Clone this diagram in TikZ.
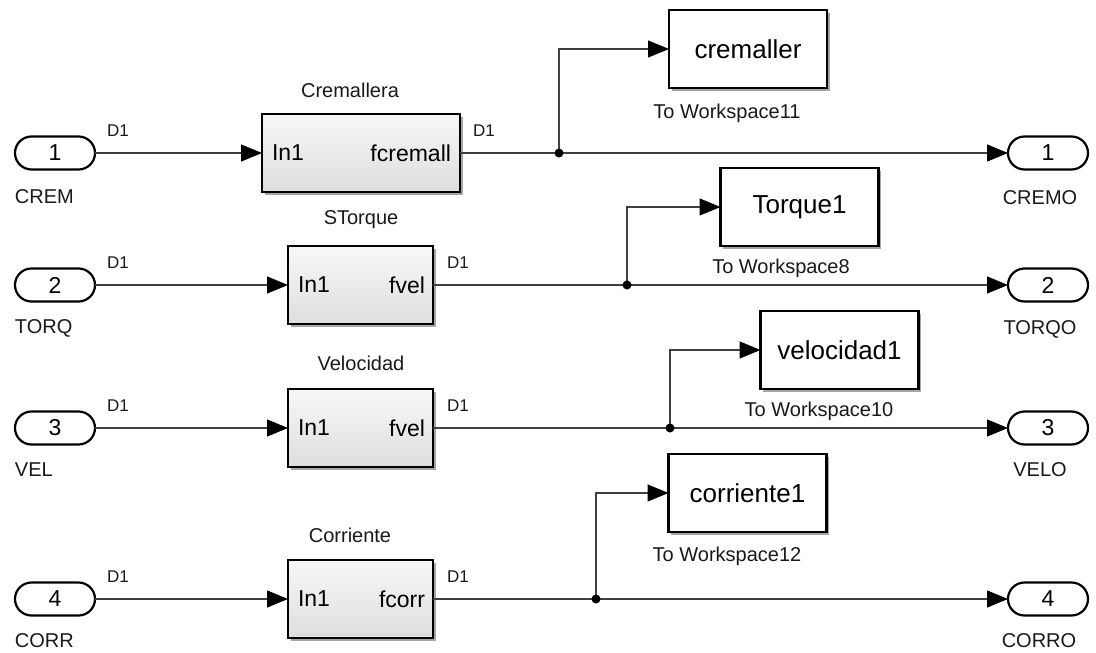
\documentclass[tikz,border=0pt]{standalone}
\usepackage{fontspec}
\setmainfont{Liberation Sans}
\usetikzlibrary{shapes.misc,arrows.meta,shadows}
\begin{document}
\begin{tikzpicture}[x=1pt,y=-1pt,
  every node/.style={inner sep=0pt, outer sep=0pt},
  lbl/.style={font=\fontsize{20}{24}\selectfont, text=black!90},
  dlbl/.style={font=\fontsize{17}{20}\selectfont, text=black!90, anchor=west},
  port/.style={draw, rounded rectangle, line width=2.2pt, minimum width=80pt, minimum height=33pt, font=\fontsize{23}{26}\selectfont, fill=white},
  subsys/.style={draw, line width=2.5pt, minimum height=78pt, top color=black!3, bottom color=black!13,
    drop shadow={shadow xshift=2.5pt, shadow yshift=-2.5pt, opacity=0.35, fill=black}},
  ws/.style={draw, line width=2.5pt, minimum width=158pt, minimum height=78pt, fill=white, font=\fontsize{26}{30}\selectfont,
    drop shadow={shadow xshift=2.5pt, shadow yshift=-2.5pt, opacity=0.35, fill=black}},
  plbl/.style={font=\fontsize{23}{26}\selectfont},
  sig/.style={draw=black!75, line width=1.3pt, -{Triangle[length=21pt,width=17pt,color=black]}},
  wire/.style={draw=black!75, line width=1.3pt},
  jdot/.style={circle, fill=black, minimum size=9pt}
]
\useasboundingbox (0,0) rectangle (1096,653);

% ---------- inports ----------
\node[port] (in1) at (55,153) {1};
\node[port] (in2) at (55,285) {2};
\node[port] (in3) at (55,428) {3};
\node[port] (in4) at (55,599) {4};
\node[lbl, anchor=west] (in1l) at (15,197) {CREM};
\node[lbl, anchor=west] (in2l) at (15,328) {TORQ};
\node[lbl, anchor=west] (in3l) at (15,470) {VEL};
\node[lbl, anchor=west] (in4l) at (15,641) {CORR};

% ---------- outports ----------
\node[port] (out1) at (1048,153) {1};
\node[port] (out2) at (1048,285) {2};
\node[port] (out3) at (1048,428) {3};
\node[port] (out4) at (1048,599) {4};
\node[lbl] (out1l) at (1040,198) {CREMO};
\node[lbl] (out2l) at (1040,329) {TORQO};
\node[lbl] (out3l) at (1040,470) {VELO};
\node[lbl] (out4l) at (1039,641) {CORRO};

% ---------- subsystems ----------
\node[subsys, minimum width=198pt] (b1) at (361,153) {};
\node[subsys, minimum width=145pt] (b2) at (360.5,285) {};
\node[subsys, minimum width=145pt] (b3) at (360.5,428) {};
\node[subsys, minimum width=145pt] (b4) at (360.5,599) {};
\node[plbl, anchor=west] (b1i) at ([xshift=10pt]b1.west) {In1};
\node[plbl, anchor=east] (b1o) at ([xshift=-9pt]b1.east) {fcremall};
\node[plbl, anchor=west] (b2i) at ([xshift=10pt]b2.west) {In1};
\node[plbl, anchor=east] (b2o) at ([xshift=-8pt]b2.east) {fvel};
\node[plbl, anchor=west] (b3i) at ([xshift=10pt]b3.west) {In1};
\node[plbl, anchor=east] (b3o) at ([xshift=-8pt]b3.east) {fvel};
\node[plbl, anchor=west] (b4i) at ([xshift=10pt]b4.west) {In1};
\node[plbl, anchor=east] (b4o) at ([xshift=-8pt]b4.east) {fcorr};
\node[lbl] (b1t) at (350,90) {Cremallera};
\node[lbl] (b2t) at (361,220) {STorque};
\node[lbl] (b3t) at (361,363) {Velocidad};
\node[lbl] (b4t) at (350,535) {Corriente};

% ---------- to workspace ----------
\node[ws] (ws1) at (748,49) {cremaller};
\node[ws] (ws2) at (799.5,207) {Torque1};
\node[ws] (ws3) at (839.5,350) {velocidad1};
\node[ws] (ws4) at (747.5,493) {corriente1};
\node[lbl] (ws1l) at (727,113) {To Workspace11};
\node[lbl] (ws2l) at (781,268) {To Workspace8};
\node[lbl] (ws3l) at (819,411) {To Workspace10};
\node[lbl] (ws4l) at (727,556) {To Workspace12};

% ---------- signal labels ----------
\node[dlbl] (d1a) at (107,131) {D1};
\node[dlbl] (d2a) at (107,263) {D1};
\node[dlbl] (d3a) at (107,406) {D1};
\node[dlbl] (d4a) at (107,577) {D1};
\node[dlbl] (d1b) at (473,131) {D1};
\node[dlbl] (d2b) at (447,263) {D1};
\node[dlbl] (d3b) at (447,406) {D1};
\node[dlbl] (d4b) at (447,577) {D1};

% ---------- connectors ----------
\draw[sig] (in1.east) -- (b1.west);
\draw[sig] (in2.east) -- (b2.west);
\draw[sig] (in3.east) -- (b3.west);
\draw[sig] (in4.east) -- (b4.west);

\coordinate (j1) at (559,153);
\coordinate (j2) at (627,285);
\coordinate (j3) at (670,428);
\coordinate (j4) at (596,599);

\draw[sig] (b1.east) -- (out1.west);
\draw[sig] (b2.east) -- (out2.west);
\draw[sig] (b3.east) -- (out3.west);
\draw[sig] (b4.east) -- (out4.west);

\draw[sig] (j1) |- (ws1.west);
\draw[sig] (j2) |- (ws2.west);
\draw[sig] (j3) |- (ws3.west);
\draw[sig] (j4) |- (ws4.west);

\node[jdot] (j1d) at (j1) {};
\node[jdot] (j2d) at (j2) {};
\node[jdot] (j3d) at (j3) {};
\node[jdot] (j4d) at (j4) {};
\end{tikzpicture}
\end{document}
